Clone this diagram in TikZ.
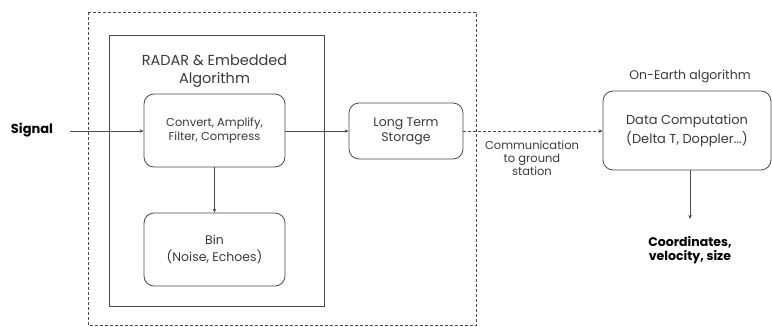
\documentclass[tikz,border=0pt]{standalone}
\usepackage{fontspec}
\setmainfont{Poppins}
\usetikzlibrary{arrows.meta}
\definecolor{linec}{HTML}{4A4A4A}
\definecolor{textc}{HTML}{3A3A3A}
\tikzset{
  rbox/.style={draw=linec, line width=0.8pt, rounded corners=10pt, align=center, text=textc, font=\fontsize{11.5}{14.5}\selectfont, inner sep=0pt},
  conn/.style={draw=linec, line width=0.7pt, -{Stealth[length=4pt,width=3.5pt]}},
  lbl/.style={align=center, text=textc, inner sep=0pt},
}
\begin{document}
\begin{tikzpicture}[x=1pt,y=-1pt]
\useasboundingbox (0,0) rectangle (772,327);
% dashed outer box
\draw[linec, line width=0.6pt, dash pattern=on 3pt off 2pt] (88,12) rectangle (476,325.5);
% solid inner box
\draw[linec, line width=0.8pt] (109,35) rectangle (324,306);
\node[lbl, font=\fontsize{14.5}{18}\selectfont] (title) at (214.5,71) {RADAR \& Embedded\\Algorithm};
\node[rbox, minimum width=141pt, minimum height=73pt] (conv) at (214.5,130.5) {Convert, Amplify,\\Filter, Compress};
\node[rbox, minimum width=141pt, minimum height=73pt, font=\fontsize{12.5}{17}\selectfont] (bin) at (214.5,249.5) {Bin\\(Noise, Echoes)};
\node[rbox, minimum width=114pt, minimum height=56pt, font=\fontsize{12.5}{15}\selectfont] (lts) at (406,131) {Long Term\\Storage};
\node[rbox, minimum width=168pt, minimum height=79pt, font=\fontsize{13}{19}\selectfont] (dc) at (687,130.5) {Data Computation\\(Delta T, Doppler...)};
\node[lbl, font=\fontsize{12.5}{14}\selectfont] (onearth) at (690,76) {On-Earth algorithm};
\node[lbl, font=\fontsize{11.5}{13}\selectfont] (comm) at (532,158) {Communication\\to ground\\station};
\node[lbl, font=\bfseries\fontsize{13}{15}\selectfont, text=black] (signal) at (32,130) {Signal};
\node[lbl, font=\bfseries\fontsize{12.5}{14.5}\selectfont, text=black] (coords) at (690,250) {Coordinates,\\velocity, size};
\coordinate (sigstart) at (70,131);
\coordinate (coordsend) at (690,219);
\draw[conn] (sigstart) -- (sigstart -| conv.west);
\draw[conn] (conv.south) -- (bin.north);
\draw[conn] (conv.east |- lts.west) -- (lts.west);
\draw[conn, dash pattern=on 3pt off 2pt] (lts.east) -- (dc.west |- lts.east);
\draw[conn] (dc.south -| coordsend) -- (coordsend);
\end{tikzpicture}
\end{document}
